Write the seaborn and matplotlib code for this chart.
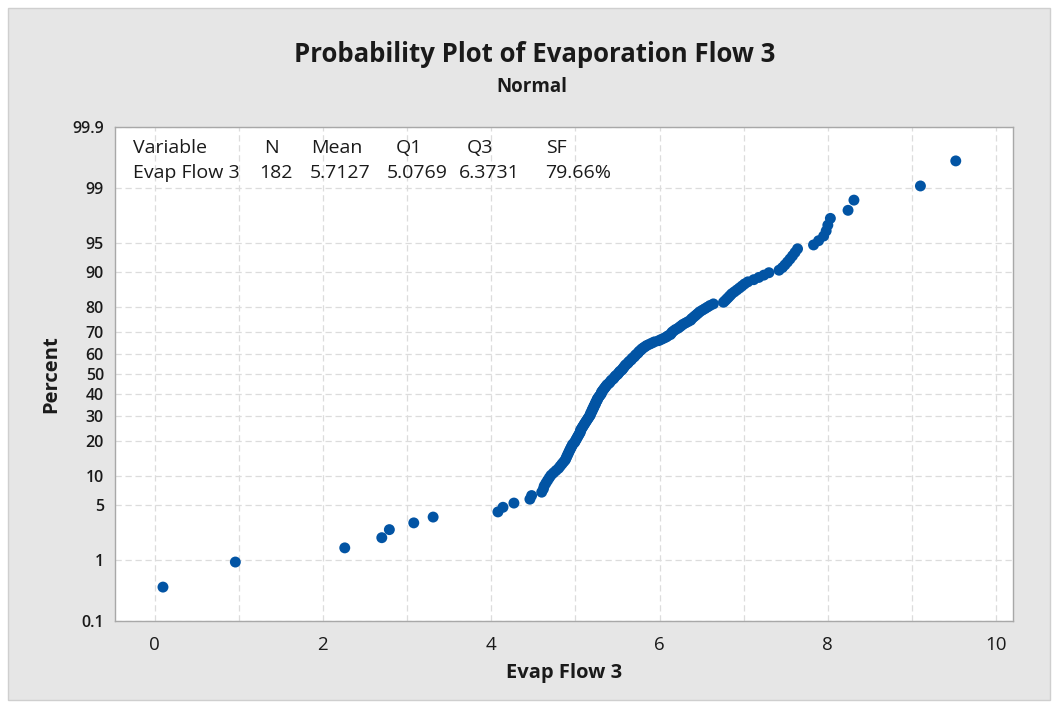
import numpy as np
import pandas as pd
import matplotlib
matplotlib.use("Agg")
import matplotlib.pyplot as plt
from matplotlib.patches import Rectangle
import seaborn as sns
from statistics import NormalDist

# Sorted evaporation flow readings (N = 182)
evap_flow_3 = [
    0.10, 0.96, 2.26, 2.70, 2.79, 3.08, 3.31, 4.08, 4.14, 4.27,
    4.46, 4.48, 4.60, 4.62, 4.63, 4.65, 4.67, 4.69, 4.71, 4.74,
    4.77, 4.80, 4.82, 4.84, 4.86, 4.88, 4.89, 4.90, 4.91, 4.92,
    4.93, 4.94, 4.95, 4.96, 4.97, 4.99, 5.00, 5.01, 5.02, 5.03,
    5.04, 5.05, 5.06, 5.06, 5.07, 5.08, 5.09, 5.10, 5.11, 5.12,
    5.13, 5.14, 5.15, 5.16, 5.17, 5.18, 5.18, 5.19, 5.20, 5.20,
    5.21, 5.22, 5.22, 5.23, 5.24, 5.24, 5.25, 5.26, 5.26, 5.27,
    5.28, 5.29, 5.30, 5.31, 5.31, 5.32, 5.33, 5.34, 5.35, 5.36,
    5.37, 5.38, 5.40, 5.41, 5.42, 5.43, 5.45, 5.46, 5.47, 5.48,
    5.50, 5.51, 5.52, 5.53, 5.55, 5.56, 5.57, 5.58, 5.59, 5.60,
    5.62, 5.63, 5.64, 5.66, 5.67, 5.68, 5.70, 5.71, 5.72, 5.74,
    5.75, 5.76, 5.78, 5.79, 5.81, 5.83, 5.85, 5.88, 5.91, 5.94,
    5.99, 6.02, 6.05, 6.08, 6.10, 6.13, 6.14, 6.15, 6.17, 6.19,
    6.22, 6.24, 6.26, 6.28, 6.31, 6.34, 6.37, 6.38, 6.40, 6.42,
    6.44, 6.46, 6.48, 6.51, 6.54, 6.57, 6.60, 6.64, 6.76, 6.78,
    6.80, 6.82, 6.84, 6.86, 6.89, 6.92, 6.95, 6.98, 7.01, 7.05,
    7.12, 7.18, 7.24, 7.30, 7.42, 7.46, 7.49, 7.52, 7.55, 7.58,
    7.61, 7.64, 7.83, 7.89, 7.95, 7.98, 8.00, 8.03, 8.24, 8.31,
    9.10, 9.52,
]

pct_ticks = [0.1, 1, 5, 10, 20, 30, 40, 50, 60, 70, 80, 90, 95, 99, 99.9]
pct_labels = ["0.1", "1", "5", "10", "20", "30", "40", "50", "60", "70",
              "80", "90", "95", "99", "99.9"]
x_ticks = [0, 2, 4, 6, 8, 10]

stat_header = ["Variable", "N", "Mean", "Q1", "Q3", "SF"]
stat_values = ["Evap Flow 3", "182", "5.7127", "5.0769", "6.3731", "79.66%"]

W, H = 1059, 709


def fx(px):
    return px / W


def fy(py):
    return 1 - py / H


# normal scores with median ranks (i - 0.3) / (n + 0.4)
nd = NormalDist()
vals = np.sort(np.array(evap_flow_3))
n = len(vals)
ranks = np.arange(1, n + 1)
df = pd.DataFrame({
    "Evap Flow 3": vals,
    "z": [nd.inv_cdf((i - 0.3) / (n + 0.4)) for i in ranks],
})

sns.set_style("white")
plt.rcParams["font.family"] = ["Open Sans", "DejaVu Sans"]
text_col = "#1a1a1a"

fig = plt.figure(figsize=(W / 100, H / 100), dpi=100)
fig.patch.set_facecolor("white")
fig.add_artist(Rectangle((fx(8), fy(700)), fx(1050 - 8), (700 - 8) / H,
                         transform=fig.transFigure, facecolor="#e6e6e6",
                         edgecolor="#cfcfcf", linewidth=1, zorder=-10))

ax = fig.add_axes([fx(115), fy(621), fx(1013 - 115), (621 - 127) / H])
ax.set_facecolor("white")

sns.scatterplot(data=df, x="Evap Flow 3", y="z", ax=ax, s=62,
                color="#0254a4", edgecolor="none", linewidth=0, zorder=3)

ax.set_xlim(-0.47, 10.2)
ax.set_ylim(nd.inv_cdf(0.001), nd.inv_cdf(0.999))

ax.set_xticks(x_ticks)
ax.set_xticks(range(0, 11), minor=True)
ax.set_yticks([nd.inv_cdf(p / 100) for p in pct_ticks])
ax.set_yticklabels(pct_labels)

grid_kw = dict(color="#dcdcdc", linestyle=(0, (5, 3)), linewidth=0.9)
ax.xaxis.grid(True, which="both", **grid_kw)
ax.yaxis.grid(True, which="major", **grid_kw)
ax.set_axisbelow(True)

for s in ax.spines.values():
    s.set_color("#a8a8a8")
    s.set_linewidth(1.0)

ax.tick_params(axis="x", which="major", length=5, color="#a8a8a8",
               labelsize=13.5, labelcolor=text_col, pad=6)
ax.tick_params(axis="x", which="minor", length=0)
ax.tick_params(axis="y", length=5, color="#a8a8a8", labelsize=11.5,
               labelcolor=text_col, pad=3)
for lab in ax.get_xticklabels():
    lab.set_fontweight("medium")
for lab in ax.get_yticklabels():
    lab.set_fontweight("semibold")

ax.set_xlabel("Evap Flow 3", fontsize=14.5, fontweight="bold", color=text_col,
              labelpad=6)
ax.set_ylabel("Percent", fontsize=14.5, fontweight="bold", color=text_col,
              labelpad=8)

fig.text(fx(535), fy(55), "Probability Plot of Evaporation Flow 3",
         ha="center", va="center", fontsize=18.5, fontweight="bold",
         color=text_col)
fig.text(fx(532), fy(87), "Normal", ha="center", va="center", fontsize=13.5,
         fontweight="bold", color=text_col)

# stats table in the upper left of the plot
head_x = [133, 264, 311, 396, 467, 546]
val_x = [133, 259, 310, 387, 459, 545]
for t, x in zip(stat_header, head_x):
    fig.text(fx(x), fy(148), t, ha="left", va="center", fontsize=14,
             color=text_col)
for t, x in zip(stat_values, val_x):
    fig.text(fx(x), fy(173), t, ha="left", va="center", fontsize=14,
             color=text_col)

fig.savefig("out.png", dpi=100, facecolor=fig.get_facecolor())
